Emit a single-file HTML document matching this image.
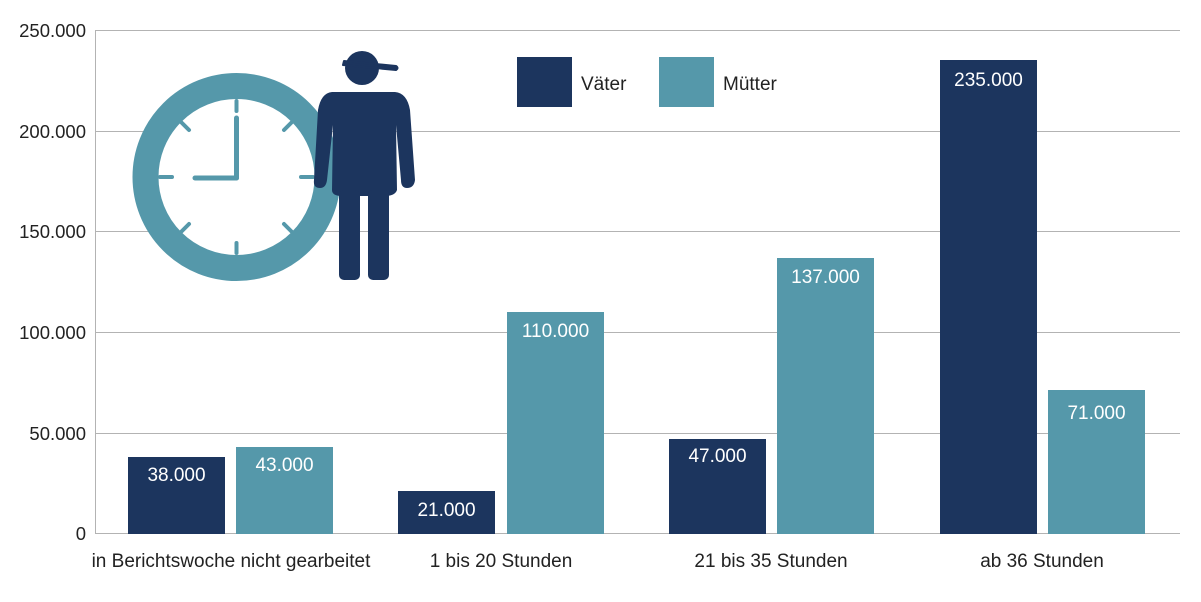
<!DOCTYPE html>
<html><head><meta charset="utf-8"><style>
body{margin:0;background:#fff}
svg text{font-family:"Liberation Sans",sans-serif}
</style></head><body>
<svg width="1201" height="597" viewBox="0 0 1201 597" xmlns="http://www.w3.org/2000/svg">
<g stroke="#b3b3b3" stroke-width="1">
<line x1="95" y1="30.5" x2="1180" y2="30.5"/>
<line x1="95" y1="131.5" x2="1180" y2="131.5"/>
<line x1="95" y1="231.5" x2="1180" y2="231.5"/>
<line x1="95" y1="332.5" x2="1180" y2="332.5"/>
<line x1="95" y1="433.5" x2="1180" y2="433.5"/>
<line x1="95" y1="533.5" x2="1180" y2="533.5"/>
<line x1="95.5" y1="30" x2="95.5" y2="534"/>
</g>
<g font-size="18.5" fill="#222" text-anchor="end">
<text x="86" y="37">250.000</text>
<text x="86" y="138">200.000</text>
<text x="86" y="238">150.000</text>
<text x="86" y="339">100.000</text>
<text x="86" y="440">50.000</text>
<text x="86" y="540">0</text>
</g>
<!-- clock -->
<circle cx="236.5" cy="177" r="91" fill="#fff" stroke="#5598aa" stroke-width="26"/>
<g stroke="#5598aa" stroke-width="4" stroke-linecap="round">
<line x1="236.5" y1="101" x2="236.5" y2="111"/>
<line x1="236.5" y1="243" x2="236.5" y2="253"/>
<line x1="160" y1="177" x2="172" y2="177"/>
<line x1="301" y1="177" x2="313" y2="177"/>
<line x1="181" y1="122" x2="189" y2="130"/>
<line x1="284" y1="130" x2="292" y2="122"/>
<line x1="181" y1="232" x2="189" y2="224"/>
<line x1="284" y1="224" x2="292" y2="232"/>
<line x1="236.5" y1="118" x2="236.5" y2="178" stroke-width="5"/>
<line x1="195" y1="178" x2="236.5" y2="178" stroke-width="5"/>
</g>
<!-- person -->
<g fill="#1c355e">
<circle cx="362" cy="68" r="17"/>
<path d="M344 61 L396 66 Q399 68 396 70 L343 65 Z" stroke="#1c355e" stroke-width="2" stroke-linejoin="round"/>
<path d="M332 92 L395 92 Q407 93 410 110 L415 180 Q414 188 407 188 Q401 188 401 180 L396 125 L397 190 Q395 196 385 196 L342 196 Q332 196 332 190 L333 125 L327 180 Q326 188 320 188 Q313 188 314 180 L318 110 Q321 93 332 92 Z"/>
<rect x="339" y="190" width="21" height="90" rx="5"/>
<rect x="368" y="190" width="21" height="90" rx="5"/>
</g>
<!-- legend -->
<rect x="517" y="57" width="55" height="50" fill="#1c355e"/>
<text x="581" y="90" font-size="19" fill="#222">Väter</text>
<rect x="659" y="57" width="55" height="50" fill="#5598aa"/>
<text x="723" y="90" font-size="19" fill="#222">Mütter</text>
<!-- bars -->
<g fill="#1c355e">
<rect x="128" y="457" width="97" height="77"/>
<rect x="398" y="491" width="97" height="43"/>
<rect x="669" y="439" width="97" height="95"/>
<rect x="940" y="60" width="97" height="474"/>
</g>
<g fill="#5598aa">
<rect x="236" y="447" width="97" height="87"/>
<rect x="507" y="312" width="97" height="222"/>
<rect x="777" y="258" width="97" height="276"/>
<rect x="1048" y="390" width="97" height="144"/>
</g>
<g font-size="19" fill="#fff" text-anchor="middle">
<text x="176.5" y="481">38.000</text>
<text x="284.5" y="471">43.000</text>
<text x="446.5" y="516">21.000</text>
<text x="555.5" y="337">110.000</text>
<text x="717.5" y="462">47.000</text>
<text x="825.5" y="283">137.000</text>
<text x="988.5" y="86">235.000</text>
<text x="1096.5" y="419">71.000</text>
</g>
<g font-size="19" fill="#222" text-anchor="middle">
<text x="231" y="567">in Berichtswoche nicht gearbeitet</text>
<text x="501" y="567">1 bis 20 Stunden</text>
<text x="771" y="567">21 bis 35 Stunden</text>
<text x="1042" y="567">ab 36 Stunden</text>
</g>
</svg>
</body></html>
